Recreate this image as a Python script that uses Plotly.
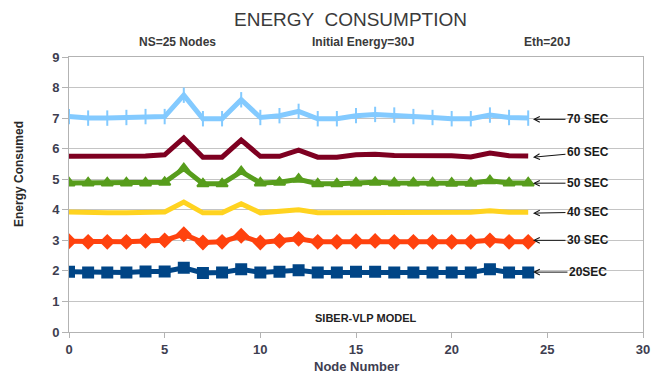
import plotly.graph_objects as go

# Node index along the x axis
nodes = list(range(25))

# Energy consumed per node for each simulation time
e20 = [1.97, 1.95, 1.95, 1.95, 1.98, 1.98, 2.10, 1.93, 1.95, 2.05, 1.95, 1.97, 2.02,
       1.95, 1.95, 1.97, 1.97, 1.95, 1.95, 1.95, 1.95, 1.95, 2.05, 1.95, 1.95]
e30 = [2.97, 2.95, 2.95, 2.95, 2.98, 3.00, 3.20, 2.93, 2.95, 3.15, 2.93, 2.98, 3.05,
       2.95, 2.95, 2.97, 2.98, 2.95, 2.95, 2.95, 2.95, 2.95, 3.00, 2.95, 2.95]
e40 = [3.93, 3.90, 3.90, 3.90, 3.92, 3.93, 4.25, 3.90, 3.90, 4.20, 3.90, 3.93, 4.00,
       3.90, 3.90, 3.92, 3.93, 3.92, 3.92, 3.92, 3.92, 3.92, 3.97, 3.92, 3.92]
e50 = [4.88, 4.88, 4.88, 4.88, 4.88, 4.90, 5.35, 4.85, 4.85, 5.25, 4.88, 4.90, 5.00,
       4.85, 4.85, 4.88, 4.90, 4.88, 4.88, 4.88, 4.87, 4.87, 4.95, 4.88, 4.88]
e60 = [5.75, 5.75, 5.75, 5.75, 5.76, 5.80, 6.35, 5.72, 5.72, 6.28, 5.75, 5.75, 5.95,
       5.72, 5.72, 5.80, 5.82, 5.78, 5.78, 5.78, 5.77, 5.73, 5.86, 5.77, 5.76]
e70 = [7.05, 7.00, 7.00, 7.02, 7.05, 7.05, 7.75, 6.98, 6.98, 7.60, 7.02, 7.08, 7.22,
       6.98, 6.98, 7.08, 7.12, 7.10, 7.05, 7.02, 6.98, 6.98, 7.10, 7.02, 7.00]

series = [
    ("20SEC", e20, "#004586", "square", 10),
    ("30 SEC", e30, "#ff420e", "diamond", 10),
    ("40 SEC", e40, "#ffd320", None, 0),
    ("50 SEC", e50, "#579d1c", "triangle-up", 10),
    ("60 SEC", e60, "#7e0021", None, 0),
    ("70 SEC", e70, "#83caff", "line-ns", 11),
]

# Label placement: arrow tip (x, y) and label vertical offset in px
label_tip_x = 24.25
label_tip_y = [1.96, 3.00, 3.89, 4.87, 5.72, 6.96]
label_dy = [0, 0, -1, 0, -5, 0]

FONT = "Liberation Sans, Arial, sans-serif"
L, R, T, B = 69, 13, 57, 44
W, H = 656 - L - R, 376 - T - B


def px_to_paper(px, py):
    """Convert a page pixel position to paper coordinates."""
    return (px - L) / W, (376 - py - B) / H


fig = go.Figure()
for name, vals, color, sym, size in series:
    if sym:
        marker = dict(symbol=sym, size=size, color=color,
                      line=dict(color=color, width=2))
        mode = "lines+markers"
    else:
        marker = None
        mode = "lines"
    fig.add_trace(go.Scatter(x=nodes, y=vals, mode=mode, name=name,
                             line=dict(color=color, width=5),
                             marker=marker, showlegend=False))

annotations = []
for (name, *_), ty, dy in zip(series, label_tip_y, label_dy):
    annotations.append(dict(
        x=label_tip_x, y=ty, xref="x", yref="y", text="<b>%s</b>" % name,
        showarrow=True, arrowhead=5, arrowsize=1.1, arrowwidth=1,
        arrowcolor="#111111", ax=55, ay=dy,
        font=dict(family=FONT, size=12, color="#1a1a1a")))

# Header, axis titles and model caption, positioned in page pixels
texts = [
    ("ENERGY  CONSUMPTION", 350, 19, 19, "#3a3a3a", 0),
    ("<b>NS=25 Nodes</b>", 177, 42, 12, "#3a3a3a", 0),
    ("<b>Initial Energy=30J</b>", 363, 42, 12, "#3a3a3a", 0),
    ("<b>Eth=20J</b>", 547, 42, 12, "#3a3a3a", 0),
    ("<b>Node Number</b>", 356, 366, 13, "#3e3e50", 0),
    ("<b>Energy Consumed</b>", 19, 174, 12, "#2a2a2a", -90),
    ("<b>SIBER-VLP MODEL</b>", 366, 318, 11, "#222222", 0),
]
for txt, px, py, fs, col, ang in texts:
    xp, yp = px_to_paper(px, py)
    annotations.append(dict(text=txt, x=xp, y=yp, xref="paper", yref="paper",
                            showarrow=False, textangle=ang,
                            xanchor="center", yanchor="middle",
                            font=dict(family=FONT, size=fs, color=col)))

fig.update_layout(
    width=656, height=376,
    margin=dict(l=L, r=R, t=T, b=B, autoexpand=False),
    paper_bgcolor="white", plot_bgcolor="white",
    annotations=annotations,
    font=dict(family=FONT),
    xaxis=dict(range=[0, 30], tickvals=[0, 5, 10, 15, 20, 25, 30],
               showgrid=False, zeroline=False, showline=True, linecolor="#b3b3b3",
               linewidth=1, mirror=True, ticks="outside", ticklen=5, tickcolor="#b3b3b3",
               automargin=False,
               tickfont=dict(family=FONT, size=13, color="#3e3e50", weight="bold")),
    yaxis=dict(range=[0, 9], dtick=1, showgrid=True, gridcolor="#c4c4c4", gridwidth=1,
               zeroline=False, showline=True, linecolor="#b3b3b3", linewidth=1,
               mirror=True, ticks="outside", ticklen=6, tickcolor="#b3b3b3",
               automargin=False,
               tickfont=dict(family=FONT, size=13, color="#3e3e50", weight="bold")),
)

fig.write_html("out.html")
